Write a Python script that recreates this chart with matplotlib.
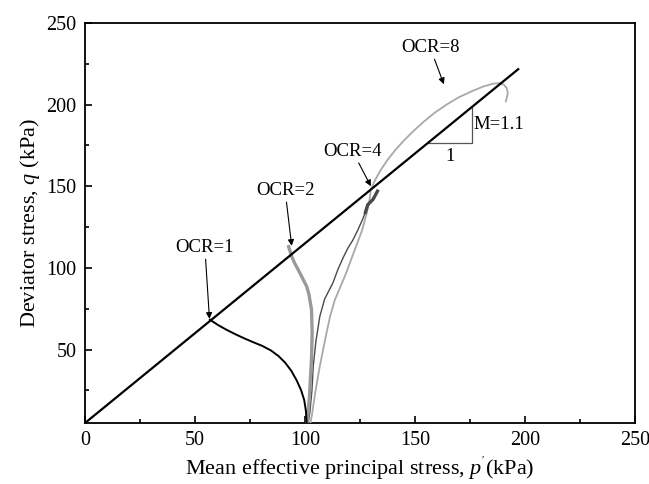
import matplotlib

matplotlib.use("Agg")
import matplotlib.pyplot as plt
import numpy as np
from matplotlib.ticker import MultipleLocator

# ---------- data (p', q in kPa) ---------- #
M_SLOPE = 1.1
Q_BASE = 5.0
CSL_P_END = 197.0

ocr1_p = [100.8, 100.5, 99.7, 98.3, 96.3, 93.8, 91.0, 88.0, 84.5, 80.5, 76.5, 72.5, 68.5, 64.5, 60.5, 56.8]
ocr1_q = [5.0, 12.0, 19.0, 25.0, 31.0, 37.0, 42.0, 46.0, 49.5, 52.3, 54.5, 56.8, 59.3, 62.0, 65.0, 68.3]

ocr2_p = [101.0, 102.0, 103.0, 103.3, 103.0, 101.8, 100.8, 98.8, 96.9, 95.3, 94.0, 93.2, 92.6]
ocr2_q = [5.0, 20.0, 44.0, 60.0, 74.5, 84.0, 88.7, 94.0, 99.0, 103.0, 107.0, 110.5, 113.0]

ocr4_p = [101.5, 102.3, 103.2, 103.8, 105.0, 106.8, 109.0, 112.8, 115.0, 117.3, 119.5, 121.8, 124.0,
          126.0, 127.5, 128.6, 131.0, 133.0]
ocr4_q = [5.0, 12.0, 25.0, 39.8, 55.0, 70.4, 81.0, 91.0, 99.0, 106.0, 112.0, 117.0, 123.0,
          129.0, 134.0, 138.7, 142.0, 147.0]

ocr8_p = [102.5, 103.2, 104.3, 105.5, 106.8, 108.3, 109.8, 111.4, 113.5, 116.0, 118.5, 121.0, 123.5,
          126.0, 128.0, 129.3, 130.0, 132.0, 134.5, 137.5, 141.0, 145.0, 149.5, 154.0, 159.0, 164.4,
          170.0, 176.4, 181.0, 185.5, 188.5, 190.5, 191.8, 192.3, 191.4]
ocr8_q = [5.0, 10.0, 20.0, 30.0, 40.0, 50.0, 60.0, 70.0, 80.0, 88.0, 96.0, 105.0, 114.0,
          123.0, 133.0, 141.0, 148.0, 154.0, 160.0, 166.0, 172.0, 178.0, 184.0, 189.5, 195.0, 200.0,
          204.5, 208.5, 211.0, 212.8, 213.2, 212.2, 210.0, 207.0, 202.0]

# label text, label position, arrow tip
labels = ["OCR=1", "OCR=2", "OCR=4", "OCR=8"]
label_xy = [(54.5, 107.0), (91.0, 142.0), (121.8, 166.0), (157.0, 229.5)]
arrow_tip = [(56.6, 68.8), (94.0, 113.5), (130.0, 150.0), (163.2, 212.5)]

# slope triangle
tri_p = [156.0, 176.0]

# ---------- style ---------- #
plt.rcParams["font.family"] = ["Liberation Serif", "DejaVu Serif"]
plt.rcParams["mathtext.fontset"] = "custom"
plt.rcParams["mathtext.rm"] = "Liberation Serif"
plt.rcParams["mathtext.it"] = "Liberation Serif:italic"

fig = plt.figure(figsize=(6.49, 4.84), dpi=100)
ax = fig.add_axes([0.131, 0.126, 0.847, 0.8265])

# critical state line
csl_p = np.array([0.0, CSL_P_END])
ax.plot(csl_p, Q_BASE + M_SLOPE * csl_p, color="black", lw=1.6, zorder=5)

# stress paths
ax.plot(ocr8_p, ocr8_q, color="#a8a8a8", lw=1.3, zorder=3)
ax.plot(ocr4_p, ocr4_q, color="#4a4a4a", lw=1.0, zorder=3)
ax.plot(ocr4_p[-4:], ocr4_q[-4:], color="#4a4a4a", lw=2.4, zorder=3)
ax.plot(ocr2_p, ocr2_q, color="#9a9a9a", lw=2.4, zorder=4)
ax.plot(ocr1_p, ocr1_q, color="black", lw=1.4, zorder=4)

# OCR annotations
for txt, (tx, ty), (ax_, ay) in zip(labels, label_xy, arrow_tip):
    ax.annotate(
        txt,
        xy=(ax_, ay),
        xytext=(tx, ty),
        ha="center",
        va="bottom",
        fontsize=13.5,
        arrowprops=dict(arrowstyle="-|>", color="black", lw=0.8,
                        mutation_scale=9, shrinkA=0, shrinkB=0),
        zorder=6,
    )

# slope triangle  M = 1.1
q1 = Q_BASE + M_SLOPE * tri_p[0]
q2 = Q_BASE + M_SLOPE * tri_p[1]
ax.plot([tri_p[0], tri_p[1], tri_p[1]], [q1, q1, q2], color="#555555", lw=0.9, zorder=2)
ax.text(tri_p[1] + 0.8, (q1 + q2) / 2, f"M={M_SLOPE}", fontsize=13.5, ha="left", va="center")
ax.text((tri_p[0] + tri_p[1]) / 2, q1 - 3, "1", fontsize=13.5, ha="center", va="top")

# axes
ax.set_xlim(0, 250)
ax.set_ylim(Q_BASE, 250)
ax.xaxis.set_major_locator(MultipleLocator(50))
ax.xaxis.set_minor_locator(MultipleLocator(25))
ax.yaxis.set_major_locator(MultipleLocator(50))
ax.yaxis.set_minor_locator(MultipleLocator(25))
ax.tick_params(which="both", direction="in", top=False, right=False, labelsize=14.5, width=1.2)
ax.tick_params(which="major", length=5)
ax.tick_params(which="minor", length=3)
ax.tick_params(axis="x", pad=6)
ax.tick_params(axis="y", pad=6)
for s in ax.spines.values():
    s.set_linewidth(1.3)

ax.set_xlabel(r"Mean effective principal stress, $p^{'}$(kPa)", fontsize=16, labelpad=3)
ax.set_ylabel(r"Deviator stress, $q$ (kPa)", fontsize=16, labelpad=3)

fig.savefig("out.png", dpi=100)
